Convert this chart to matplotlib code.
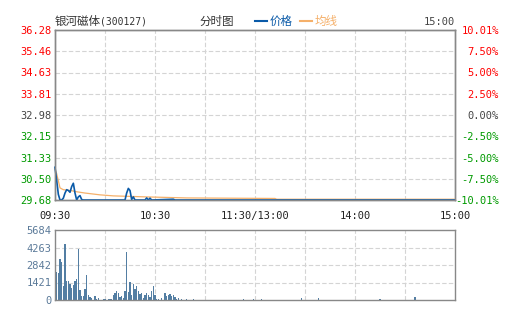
# %% Imports

import matplotlib
matplotlib.use("Agg")
import matplotlib.pyplot as plt

plt.rcParams["font.family"] = ["DejaVu Sans Mono", "Noto Sans CJK SC"]

# %% Data

PREV_CLOSE = 32.98
price_ticks = [29.68, 30.50, 31.33, 32.15, 32.98, 33.81, 34.63, 35.46, 36.28]
pct_labels = ["-10.01%", "-7.50%", "-5.00%", "-2.50%", "0.00%",
              "2.50%", "5.00%", "7.50%", "10.01%"]
time_ticks = [0, 60, 120, 180, 240]
time_labels = ["09:30", "10:30", "11:30/13:00", "14:00", "15:00"]
vol_ticks = [0, 1421, 2842, 4263, 5684]

# minute index (0 = 09:30, 240 = 15:00) and price
price_min = [0, 1, 2, 3, 4, 5, 6, 7, 8, 9, 10, 11, 12, 13, 14, 15, 16, 17,
             42, 43, 44, 45, 46, 47, 48, 54, 55, 56, 57, 58, 71, 72, 240]
price = [30.95, 30.45, 29.90, 29.68, 29.68, 29.75, 29.95, 30.08, 30.05, 29.98,
         30.20, 30.33, 29.95, 29.68, 29.80, 29.85, 29.70, 29.68,
         29.68, 29.95, 30.13, 30.05, 29.70, 29.80, 29.68, 29.68, 29.76, 29.68,
         29.75, 29.68, 29.71, 29.68, 29.68]

avg_min = [0, 1, 3, 5, 10, 13, 18, 27, 35, 55, 79, 132, 133, 240]
avg_price = [30.88, 30.70, 30.15, 30.08, 30.04, 30.00, 29.95, 29.88, 29.84,
             29.80, 29.76, 29.74, 29.71, 29.71]

vol_min = [1, 2, 3, 4, 5, 6, 7, 8, 9, 10, 11, 12, 13, 14, 15, 16, 17, 18, 19,
           20, 21, 22, 24, 25, 26, 29, 30, 32, 33, 34, 35, 36, 37, 38, 39, 40,
           41, 42, 43, 44, 45, 46, 47, 48, 49, 50, 51, 52, 53, 54, 55, 56, 57,
           58, 59, 60, 61, 62, 64, 66, 67, 68, 69, 70, 71, 72, 73, 74, 76, 79,
           83, 113, 119, 124, 148, 158, 195, 216]
vol = [2250, 2170, 3330, 3090, 1140, 4550, 1540, 1540, 1300, 1000, 1220, 1540,
       1700, 4140, 810, 350, 350, 890, 2030, 410, 240, 130, 330, 80, 190, 100,
       100, 100, 100, 100, 430, 570, 730, 600, 240, 350, 190, 730, 3920, 650,
       1460, 430, 1300, 870, 1140, 730, 490, 570, 190, 410, 570, 430, 240, 730,
       1140, 430, 80, 80, 190, 570, 330, 430, 490, 330, 410, 240, 80, 160, 80,
       80, 80, 110, 90, 90, 160, 170, 90, 250]


def level_color(p):
    if p > PREV_CLOSE + 0.001:
        return "#ff0000"
    if p < PREV_CLOSE - 0.001:
        return "#009a00"
    return "#444444"


# %% Figure

fig = plt.figure(figsize=(5.05, 3.30), dpi=100)
ax = fig.add_axes([55 / 505, 130 / 330, 400 / 505, 170 / 330])
axv = fig.add_axes([55 / 505, 30 / 330, 400 / 505, 70 / 330])

grid_kw = dict(color="#d4d4d4", linewidth=0.8, linestyle=(0, (4, 2)))

# price panel
ax.set_xlim(0, 240)
ax.set_ylim(price_ticks[0], price_ticks[-1])
for p in price_ticks[1:-1]:
    ax.axhline(p, **grid_kw, zorder=0)
for m in range(30, 240, 30):
    ax.axvline(m, **grid_kw, zorder=0)
ax.plot(avg_min, avg_price, color="#f5b06a", linewidth=0.9, clip_on=False, zorder=3)
ax.plot(price_min, price, color="#0a5aa8", linewidth=1.2, clip_on=False, zorder=4)

ax.set_yticks(price_ticks)
ax.set_yticklabels([f"{p:.2f}" for p in price_ticks])
for lbl, p in zip(ax.get_yticklabels(), price_ticks):
    lbl.set_color(level_color(p))

axr = ax.twinx()
axr.set_ylim(ax.get_ylim())
axr.set_yticks(price_ticks)
axr.set_yticklabels(pct_labels, ha="right")
for lbl, p in zip(axr.get_yticklabels(), price_ticks):
    lbl.set_color(level_color(p))
# pad is in points: right edge of labels near x = 499 px
axr.tick_params(axis="y", length=0, pad=31.5, labelsize=7.5)

ax.set_xticks(time_ticks)
ax.set_xticklabels(time_labels)
ax.tick_params(axis="x", length=0, pad=8, labelsize=7.5, labelcolor="#222222")
ax.tick_params(axis="y", length=0, pad=2.5, labelsize=7.5)

for a in (ax, axr):
    for s in a.spines.values():
        s.set_color("#888888")
        s.set_linewidth(1.0)

# volume panel
axv.set_xlim(0, 240)
axv.set_ylim(0, vol_ticks[-1])
for v in vol_ticks[1:-1]:
    axv.axhline(v, **grid_kw, zorder=0)
for m in range(30, 240, 30):
    axv.axvline(m, **grid_kw, zorder=0)
axv.bar(vol_min, vol, width=0.65, color="#537ea3", zorder=2)
axv.set_xticks([])
axv.set_yticks(vol_ticks)
axv.set_yticklabels([str(v) for v in vol_ticks])
axv.tick_params(axis="y", length=0, pad=2.5, labelsize=7.5, labelcolor="#5b7a99")
for s in axv.spines.values():
    s.set_color("#888888")
    s.set_linewidth(1.0)

# header texts
fig.text(55 / 505, 1 - 21 / 330, "银河磁体", family=["Noto Sans CJK SC"],
         fontsize=8.3, color="#333333", va="center", ha="left")
fig.text(100 / 505, 1 - 21 / 330, "(300127)", family=["DejaVu Sans Mono"],
         fontsize=7, color="#333333", va="center", ha="left")
fig.text(217 / 505, 1 - 21 / 330, "分时图", family=["Noto Sans CJK SC"],
         fontsize=8.3, color="#333333", va="center", ha="center")
fig.add_artist(plt.Line2D([255 / 505, 267 / 505], [1 - 21 / 330] * 2,
                          color="#0a5aa8", linewidth=1.5))
fig.text(270 / 505, 1 - 21 / 330, "价格", family=["Noto Sans CJK SC"],
         fontsize=8.3, color="#0a5aa8", va="center", ha="left")
fig.add_artist(plt.Line2D([300 / 505, 312 / 505], [1 - 21 / 330] * 2,
                          color="#f5b06a", linewidth=1.5))
fig.text(315 / 505, 1 - 21 / 330, "均线", family=["Noto Sans CJK SC"],
         fontsize=8.3, color="#f5b06a", va="center", ha="left")
fig.text(455 / 505, 1 - 22 / 330, "15:00", fontsize=7.5, color="#444444",
         va="center", ha="right")

fig.savefig("out.png", dpi=100, facecolor="white")
